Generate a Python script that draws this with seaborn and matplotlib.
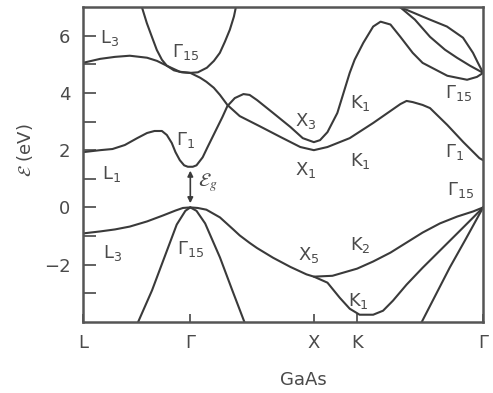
import numpy as np
import pandas as pd
import seaborn as sns
import matplotlib
matplotlib.use("Agg")
import matplotlib.pyplot as plt

# High-symmetry points along the k path
k_ticks = [0.0, 0.87, 1.87, 2.22, 3.24]
k_labels = ["L", "Γ", "X", "K", "Γ"]

# Valence bands
hh_k = [0.0, 0.14, 0.26, 0.38, 0.52, 0.65, 0.75, 0.81, 0.87, 0.93, 1.00, 1.11, 1.22, 1.27,
        1.35, 1.41, 1.54, 1.68, 1.81, 1.87, 2.02, 2.22, 2.35, 2.49, 2.62, 2.75, 2.89, 3.03,
        3.16, 3.24]
hh_E = [-0.91, -0.84, -0.77, -0.67, -0.49, -0.28, -0.11, -0.02, 0.0, -0.02, -0.08, -0.35,
        -0.78, -0.98, -1.24, -1.42, -1.76, -2.08, -2.34, -2.42, -2.39, -2.14, -1.89, -1.58,
        -1.23, -0.88, -0.56, -0.32, -0.14, 0.0]

so_k = [1.87, 1.98, 2.08, 2.16, 2.24, 2.35, 2.43, 2.51, 2.62, 2.75, 2.89, 3.03, 3.16, 3.24]
so_E = [-2.42, -2.63, -3.16, -3.54, -3.75, -3.75, -3.61, -3.26, -2.70, -2.11, -1.51, -0.91,
        -0.35, 0.0]

lh_right_k = [2.74, 2.97, 3.10, 3.24]
lh_right_E = [-4.03, -2.10, -1.10, 0.0]

lh_left_k = [0.445, 0.56, 0.66, 0.76, 0.83, 0.87]
lh_left_E = [-4.03, -2.90, -1.75, -0.60, -0.12, 0.0]

lh_mid_k = [0.87, 0.92, 0.99, 1.11, 1.21, 1.31]
lh_mid_E = [0.0, -0.12, -0.56, -1.75, -2.90, -4.03]

# Conduction bands
c1_k = [0.0, 0.14, 0.24, 0.34, 0.44, 0.52, 0.58, 0.64, 0.68, 0.72, 0.75, 0.785, 0.82,
        0.85, 0.89, 0.92, 0.97, 1.01, 1.05, 1.09, 1.13, 1.17, 1.23, 1.30, 1.35, 1.41, 1.54,
        1.68, 1.78, 1.87, 1.92, 1.98, 2.06, 2.11, 2.16, 2.20, 2.27, 2.35, 2.41, 2.49, 2.57,
        2.67, 2.75, 2.95, 3.11, 3.19, 3.24]
c1_E = [1.93, 2.00, 2.04, 2.18, 2.42, 2.60, 2.67, 2.67, 2.53, 2.25, 1.93, 1.65, 1.47, 1.42,
        1.42, 1.47, 1.75, 2.11, 2.46, 2.81, 3.16, 3.54, 3.82, 3.96, 3.93, 3.75, 3.30, 2.81,
        2.42, 2.28, 2.35, 2.63, 3.30, 4.00, 4.70, 5.16, 5.75, 6.32, 6.49, 6.39, 5.96, 5.40,
        5.05, 4.60, 4.46, 4.56, 4.70]

c2_k = [0.0, 0.14, 0.26, 0.38, 0.52, 0.60, 0.68, 0.785, 0.87, 0.95, 1.00, 1.06, 1.11, 1.17,
        1.27, 1.43, 1.60, 1.76, 1.87, 1.98, 2.16, 2.35, 2.49, 2.57, 2.62, 2.67, 2.75, 2.81,
        2.95, 3.08, 3.21, 3.24]
c2_E = [5.05, 5.19, 5.26, 5.30, 5.23, 5.12, 4.95, 4.74, 4.70, 4.53, 4.39, 4.18, 3.93, 3.58,
        3.19, 2.84, 2.46, 2.11, 2.00, 2.11, 2.42, 2.95, 3.37, 3.61, 3.72, 3.68, 3.58, 3.47,
        2.88, 2.28, 1.72, 1.65]

g15_k = [0.478, 0.518, 0.559, 0.599, 0.640, 0.680, 0.737, 0.802, 0.87, 0.931, 1.004, 1.061,
         1.109, 1.150, 1.190, 1.223, 1.239]
g15_E = [7.0, 6.44, 5.96, 5.50, 5.16, 4.95, 4.79, 4.72, 4.70, 4.72, 4.88, 5.12, 5.40, 5.79,
         6.21, 6.67, 7.0]

up1_k = [2.567, 2.672, 2.810, 2.947, 3.077, 3.158, 3.198, 3.24]
up1_E = [7.0, 6.81, 6.56, 6.32, 5.93, 5.40, 5.05, 4.70]

up2_k = [2.567, 2.688, 2.810, 2.931, 3.028, 3.134, 3.24]
up2_E = [7.0, 6.56, 5.96, 5.51, 5.23, 4.95, 4.70]

bands = {
    "hh": (hh_k, hh_E), "so": (so_k, so_E), "lh_r": (lh_right_k, lh_right_E),
    "lh_l": (lh_left_k, lh_left_E), "lh_m": (lh_mid_k, lh_mid_E),
    "c1": (c1_k, c1_E), "c2": (c2_k, c2_E), "g15": (g15_k, g15_E),
    "up1": (up1_k, up1_E), "up2": (up2_k, up2_E),
}
frames = []
for name, (k, e) in bands.items():
    frames.append(pd.DataFrame({"k": k, "E": e, "band": name}))
df = pd.concat(frames, ignore_index=True)

sns.set_style("white")
plt.rcParams["font.family"] = ["DejaVu Sans"]

ink = "#3a3a3a"
txt = "#4a4a4a"

fig = plt.figure(figsize=(4.93, 3.93), dpi=100)
ax = fig.add_axes([0.168, 0.181, 0.812, 0.801])

sns.lineplot(data=df, x="k", y="E", units="band", estimator=None, sort=False,
             color=ink, lw=1.5, legend=False, ax=ax)

ax.set_xlim(0, 3.24)
ax.set_ylim(-4, 7)

ax.set_xticks(k_ticks)
ax.set_xticklabels(k_labels)
yt = list(range(-3, 7))
ax.set_yticks(yt)
ax.set_yticklabels([("−%d" % -v if v < 0 else str(v)) if v % 2 == 0 else "" for v in yt])
ax.tick_params(axis="y", left=True, direction="in", length=9, width=1.3, color="#555",
               pad=9, labelsize=13, labelcolor=txt)
ax.tick_params(axis="x", bottom=True, direction="in", length=6, width=1.3, color="#555",
               pad=9, labelsize=13, labelcolor=txt)
ax.set_xlabel("")
ax.set_ylabel("")
for s in ax.spines.values():
    s.set_visible(True)
    s.set_linewidth(1.8)
    s.set_color("#555")

# Band labels
labels = [
    (r"$\mathrm{L}_3$", 0.22, 5.93), (r"$\Gamma_{15}$", 0.83, 5.44),
    (r"$\mathrm{L}_1$", 0.235, 1.16), (r"$\Gamma_1$", 0.83, 2.35),
    (r"$\mathrm{L}_3$", 0.243, -1.58), (r"$\Gamma_{15}$", 0.875, -1.44),
    (r"$\mathrm{X}_3$", 1.806, 3.02), (r"$\mathrm{K}_1$", 2.243, 3.65),
    (r"$\mathrm{X}_1$", 1.806, 1.30), (r"$\mathrm{K}_1$", 2.243, 1.61),
    (r"$\Gamma_{15}$", 3.045, 4.0), (r"$\Gamma_1$", 3.01, 1.93),
    (r"$\Gamma_{15}$", 3.06, 0.6), (r"$\mathrm{X}_5$", 1.83, -1.68),
    (r"$\mathrm{K}_2$", 2.243, -1.33), (r"$\mathrm{K}_1$", 2.227, -3.26),
]
for s, x, y in labels:
    ax.text(x, y, s, ha="center", va="center", fontsize=13, color=txt)

# Band gap arrow
ax.annotate("", xy=(0.87, 1.38), xytext=(0.87, 0.05),
            arrowprops=dict(arrowstyle="<|-|>", color=ink, lw=1.2, mutation_scale=8))
ax.text(1.01, 0.88, r"$\mathcal{E}_g$", ha="center", va="center", fontsize=14,
        color=txt, math_fontfamily="stix")

fig.text(0.05, 0.618, r"$\mathcal{E}$ (eV)", rotation=90, ha="center", va="center",
         fontsize=13, color=txt, math_fontfamily="stix")
fig.text(0.615, 0.033, "GaAs", ha="center", va="center", fontsize=13, color=txt)

fig.savefig("out.png", dpi=100)
